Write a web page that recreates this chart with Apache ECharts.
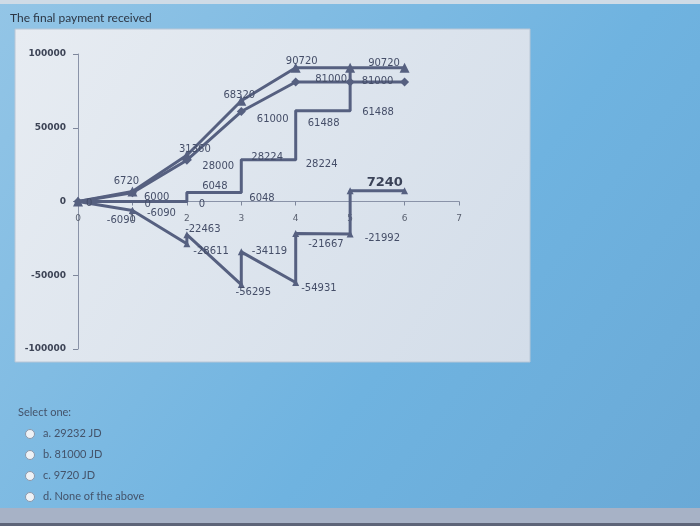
<!DOCTYPE html>
<html>
<head>
<meta charset="utf-8">
<script src="https://cdn.jsdelivr.net/npm/echarts@6/dist/echarts.min.js"></script>
<style>
  html, body { margin: 0; padding: 0; }
  #chart { width: 700px; height: 526px; }
</style>
</head>
<body>
<div id="chart"></div>
<script>
// year positions and cumulative values
const triX = [0, 1, 2, 3, 4, 5, 6]
const triVals = [0, 6720, 31360, 68320, 90720, 90720, 90720]
const dotX = [0, 1, 2, 3, 4, 5, 6]
const dotVals = [0, 6000, 28000, 61000, 81000, 81000, 81000]
const stepX = [0, 1, 2, 2, 3, 3, 4, 4, 5, 5]
const stepVals = [0, 0, 0, 6048, 6048, 28224, 28224, 61488, 61488, 90720]
const netX = [0, 1, 1, 2, 2, 3, 3, 4, 4, 5, 5, 6]
const netVals = [0, -6090, -6090, -28611, -22463, -56295, -34119, -54931, -21667, -21992, 7240, 7240]
const xTicks = [0, 7, 1]
const yTicks = [-100000, 100000, 50000]
const title = 'The final payment received'
const choices = ['a. 29232 JD', 'b. 81000 JD', 'c. 9720 JD', 'd. None of the above']

// label placement per point: [position, dx, dy] or null (no label)
const triLabels = [null, ['top', -6, 5], ['top', 8, 9], ['top', -2, 10], ['top', 6, 9], ['right', 8, -4], null]
const dotLabels = [null, ['right', 2, 5], ['right', 6, 6], ['right', 6, 8], ['right', 10, -3], ['right', 2, -1], null]
const stepLabels = [['right', 2, 2], ['right', 6, 3], ['right', 6, 3], ['top', 28, 5], ['right', 2, 6], ['right', 4, -2], ['right', 4, 5], ['right', 6, 13], ['right', 6, 2], null]
const netLabels = [null, ['left', 12, 10], ['right', 6, 3], ['right', -2, 8], ['top', 16, 8], ['bottom', 12, -6], ['right', 2, 0], ['right', -3, 6], ['right', 4, 11], ['right', 6, 4], ['right', 8, -8], null]

const lineColor = '#566080'
const labelColor = '#454e68'

function buildData(xs, ys, placements) {
  return xs.map((x, i) => {
    const p = placements[i]
    const item = { value: [x, ys[i]] }
    if (p) {
      item.label = { show: true, position: p[0], offset: [p[1], p[2]] }
    } else {
      item.label = { show: false }
    }
    return item
  })
}

const netData = buildData(netX, netVals, netLabels)
// the last positive step is printed bolder
netData[10].label.fontSize = 13
netData[10].label.fontWeight = 'bold'
netData[10].label.color = '#3b4358'

const chart = echarts.init(document.getElementById('chart'))

const gridTop = 54
const gridBottom = 177
const plotHeight = 526 - gridTop - gridBottom

const baseLine = {
  type: 'line',
  lineStyle: { color: lineColor, width: 3 },
  itemStyle: { color: lineColor },
  label: {
    color: labelColor,
    fontSize: 10,
    fontFamily: 'DejaVu Sans',
    formatter: (p) => p.value[1],
  },
  emphasis: { disabled: true },
  animation: false,
}

chart.setOption({
  backgroundColor: {
    type: 'linear', x: 0, y: 0, x2: 1, y2: 1,
    colorStops: [
      { offset: 0, color: '#93c5e6' },
      { offset: 0.6, color: '#6fb3e0' },
      { offset: 1, color: '#6aa9d6' },
    ],
  },
  graphic: [
    { type: 'rect', z: -10, shape: { x: 0, y: 0, width: 700, height: 4 }, style: { fill: '#cfdbe6' } },
    {
      type: 'rect', z: -5,
      shape: { x: 15, y: 29, width: 515, height: 333 },
      style: {
        fill: {
          type: 'linear', x: 0, y: 0, x2: 1, y2: 1,
          colorStops: [
            { offset: 0, color: '#e7ecf2' },
            { offset: 1, color: '#d3dde9' },
          ],
        },
        stroke: '#b8c6d6',
        lineWidth: 1,
      },
    },
    {
      type: 'text', left: 10, top: 12,
      style: { text: title, fontSize: 12, fontFamily: 'Lato', fill: '#2c3644' },
    },
    {
      type: 'text', left: 18, top: 407,
      style: { text: 'Select one:', fontSize: 11, fontFamily: 'Lato', fill: '#44536a' },
    },
    ...choices.map((c, i) => ({
      type: 'group',
      left: 25, top: 428 + i * 21,
      children: [
        { type: 'circle', shape: { cx: 5, cy: 6, r: 4.5 }, style: { fill: '#eef2f6', stroke: '#8c98aa', lineWidth: 1 } },
        { type: 'text', x: 18, y: 0, style: { text: c, fontSize: 11, fontFamily: 'Lato', fill: '#44536a' } },
      ],
    })),
    { type: 'rect', z: -10, shape: { x: 0, y: 508, width: 700, height: 15 }, style: { fill: '#a7b2c6' } },
    { type: 'rect', z: -10, shape: { x: 0, y: 523, width: 700, height: 3 }, style: { fill: '#5d6478' } },
  ],
  grid: { left: 78, right: 241, top: gridTop, bottom: gridBottom },
  xAxis: [
    {
      type: 'value',
      min: xTicks[0],
      max: xTicks[1],
      interval: xTicks[2],
      axisLine: { onZero: true, lineStyle: { color: '#8a93a8', width: 1 } },
      axisTick: { show: true, length: 4, lineStyle: { color: '#7d869b' } },
      axisLabel: { show: false },
      splitLine: { show: false },
    },
    {
      // tick labels under the zero line
      type: 'value',
      position: 'bottom',
      offset: -plotHeight / 2,
      min: xTicks[0],
      max: xTicks[1],
      interval: xTicks[2],
      axisLine: { show: false, onZero: false },
      axisTick: { show: false },
      axisLabel: { color: '#5a6170', fontSize: 9, fontFamily: 'DejaVu Sans', margin: 13 },
      splitLine: { show: false },
    },
  ],
  yAxis: {
    type: 'value',
    min: yTicks[0],
    max: yTicks[1],
    interval: yTicks[2],
    axisLine: { show: true, lineStyle: { color: '#8a93a8', width: 1 } },
    axisTick: { show: true, length: 5, lineStyle: { color: '#7d869b' } },
    axisLabel: {
      color: '#3d4456', fontSize: 9, fontWeight: 'bold', fontFamily: 'DejaVu Sans', margin: 12,
      formatter: (v) => String(v),
    },
    splitLine: { show: false },
  },
  series: [
    Object.assign({}, baseLine, {
      name: 'step',
      symbol: 'circle',
      symbolSize: 2,
      data: buildData(stepX, stepVals, stepLabels),
    }),
    Object.assign({}, baseLine, {
      name: 'net',
      symbol: 'triangle',
      symbolSize: 7,
      data: netData,
    }),
    Object.assign({}, baseLine, {
      name: 'received',
      symbol: 'diamond',
      symbolSize: 9,
      data: buildData(dotX, dotVals, dotLabels),
    }),
    Object.assign({}, baseLine, {
      name: 'payment',
      symbol: 'triangle',
      symbolSize: 10,
      data: buildData(triX, triVals, triLabels),
    }),
  ],
})
</script>
</body>
</html>
